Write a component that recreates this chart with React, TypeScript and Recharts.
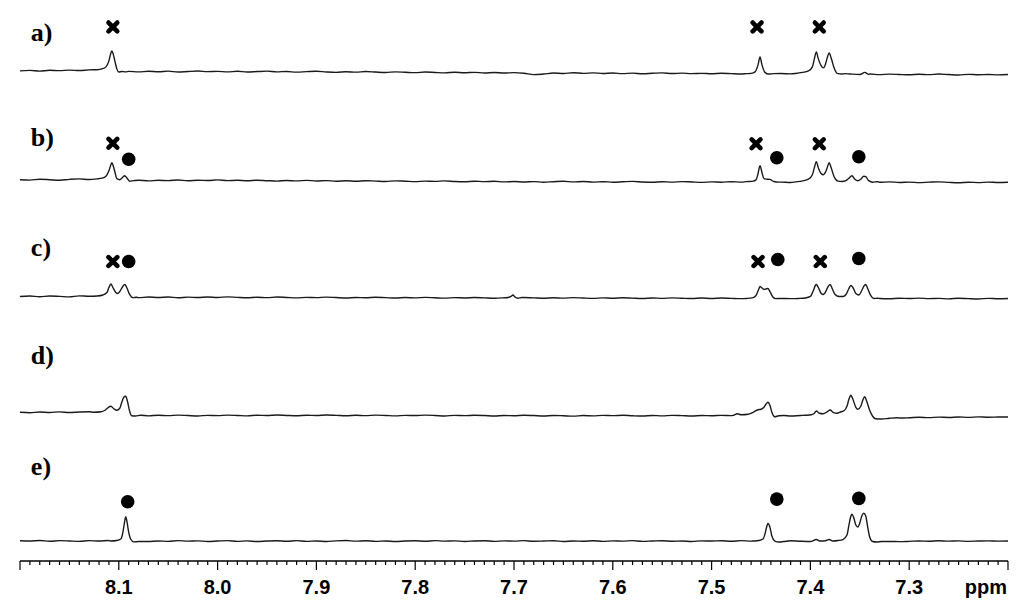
import { ComposedChart, Line, Scatter, XAxis, YAxis } from 'recharts';

// ppm grid for baseline readings, 8.20 -> 7.20 in 0.01 steps
const ppmGrid = Array.from({ length: 101 }, (_, i) => (820 - i) / 100);
const majorTicks = [8.2, 8.1, 8.0, 7.9, 7.8, 7.7, 7.6, 7.5, 7.4, 7.3, 7.2];
const tickLabels = ['8.1', '8.0', '7.9', '7.8', '7.7', '7.6', '7.5', '7.4', '7.3'];

const traceNames = ['a)', 'b)', 'c)', 'd)', 'e)'];
const traceOffsets = [491, 382, 265, 149, 20];
const labelLevels = [521, 416, 306, 197, 86];

// baseline intensities on ppmGrid
const baseA = [
  0, 0.5, -0.3, 0.6, 0.2, 0.8, 0.3, 1, 0.6, 1.2,
  -0.8, -0.5, -1, -0.4, -0.9, -0.3, -1.1, -0.6, -0.2, -0.8,
  -0.5, -1, -0.4, -1.2, -0.7, -0.3, -1, -0.6, -1.3, -0.8,
  -0.4, -1.1, -1.5, -0.9, -1.3, -0.7, -1.2, -1.6, -1, -1.4,
  -1.8, -1.2, -1.6, -2, -1.4, -1.9, -1.5, -2.1, -1.6, -2.2,
  -1.8, -2.4, -3.8, -3.2, -2.2, -2.6, -1.9, -2.5, -2, -2.6,
  -2.2, -2.8, -2.3, -2.9, -2.4, -2, -2.7, -2.3, -2.8, -2.5,
  -2.9, -2.4, -2.8, -3.1, -2.6, -2.9, -3.2, -2.7, -3, -2.5,
  -2.4, -2.6, -3, -3.5, -3.1, -3.6, -3.2, -3.8, -3.3, -3.6,
  -3.9, -3.4, -3.8, -3.2, -3.7, -4.1, -3.5, -3.9, -3.6, -4, -3.7,
];
const baseB = [
  0, -0.4, 0.5, 0, -0.6, 0.3, 0.8, 0.2, 0.6, 0.9,
  0, -1, -0.5, -1.2, -0.6, -0.9, -0.3, -1, -0.5, -0.8,
  -0.2, -0.9, -0.6, -1.1, -0.5, -1, -1.4, -0.8, -1.2, -0.7,
  -1.3, -0.9, -1.5, -1.1, -1.6, -1, -1.4, -1.8, -1.2, -1.5,
  -1.9, -1.4, -1.7, -1.2, -1.8, -2.1, -1.5, -1.9, -1.6, -2.2,
  -1.8, -2.3, -1.9, -2.5, -2, -1.6, -2.2, -1.8, -2.4, -2,
  -2.5, -2.1, -1.7, -2.3, -2.6, -2, -2.4, -1.9, -2.3, -2.7,
  -2.2, -2.5, -2, -2.4, -2.2, -2.6, -2.1, -2.4, -2.8, -2.3,
  -2.5, -2, -2.4, -2.2, -2.7, -2.3, -2.1, -2.6, -2.2, -2.8,
  -2.4, -2.9, -2.5, -2.2, -2.7, -3.1, -2.6, -2.9, -2.4, -2.8, -2.6,
];
const baseC = [
  0, 0.4, -0.3, 0.5, 0.1, -0.4, 0.6, 0.2, 0.7, 0.4,
  0, -0.8, -1.2, -0.6, -1, -0.5, -1.3, -0.7, -1.1, -0.6,
  -1, -0.4, -0.9, -1.3, -0.8, -1.2, -0.6, -1, -1.4, -0.9,
  -1.2, -0.7, -1.1, -1.5, -1, -1.3, -0.8, -1.2, -1.6, -1.1,
  -1.4, -0.9, -1.3, -1.7, -1.2, -1.5, -1, -1.4, -1.8, -1.3,
  -1.6, -1.1, -1.4, -1.8, -1.3, -1.7, -1.2, -1.6, -1.9, -1.4,
  -1.8, -1.3, -1.7, -2, -1.5, -1.9, -1.4, -1.8, -2.1, -1.6,
  -2, -1.5, -1.9, -2.2, -1.7, -2, -1.6, -1.9, -2.2, -1.8,
  -2, -1.6, -1.9, -2.2, -1.8, -2.1, -1.7, -2, -2.3, -1.8,
  -2.1, -1.7, -2.2, -1.9, -2.4, -1.8, -2.2, -2.5, -1.9, -2.3, -2,
];
const baseD = [
  0, -0.5, 0.3, -0.2, 0.4, -0.3, 0.2, 0.5, -0.1, 0.3,
  -3.5, -3.8, -3.2, -3.6, -3, -3.4, -2.9, -3.3, -3.7, -3.1,
  -3.4, -2.9, -3.2, -3.6, -3, -3.3, -2.8, -3.2, -3.5, -3,
  -3.3, -2.8, -3.1, -3.5, -3, -3.4, -2.9, -3.2, -3.6, -3.1,
  -3.3, -2.9, -3.2, -3.7, -3.1, -3.4, -3, -3.3, -3.8, -3.2,
  -3.5, -3, -3.3, -3.7, -3.2, -3.5, -3.9, -3.3, -3.6, -3.1,
  -3.4, -3, -3.5, -3.8, -3.2, -3.6, -3.1, -3.4, -3.7, -3.2,
  -3.5, -3.1, -3.4, -3.6, -3.2, -3.5, -3.2, -3.4, -3.7, -3.2,
  -3.4, -3, -3.3, -3.6, -3.2, -3.5, -3.3, -3.6, -6.5, -5.8,
  -5.5, -5, -5.4, -4.9, -5.2, -4.7, -5.1, -4.6, -5, -4.8, -4.7,
];
const baseE = [
  0.3, 0, 0.5, -0.2, 0.4, 0.1, -0.3, 0.4, 0, 0.5,
  -0.5, -0.2, 0.3, -0.4, 0.1, -0.3, 0.4, -0.1, 0.2, -0.4,
  0, 0.4, -0.3, 0.2, -0.5, 0, 0.3, -0.2, 0.4, -0.3,
  0.1, -0.4, 0.2, 0.5, -0.1, 0.3, -0.3, 0.1, -0.5, 0,
  0.3, -0.2, 0.4, -0.1, 0.2, -0.4, 0.1, 0.3, -0.3, 0.2,
  -0.1, 0.4, -0.2, 0, 0.3, -0.4, 0.1, -0.2, 0.3, -0.3,
  0.2, -0.1, 0.4, -0.3, 0, 0.3, -0.2, 0.1, -0.4, 0.2,
  0, 0.3, -0.2, 0.4, -0.1, 0.2, -0.3, 0.1, 0.3, -0.2,
  0, 0.3, -0.1, 0.2, -0.3, 0.1, -0.2, 0.3, -0.4, -0.6,
  -0.3, 0.1, -0.2, 0.3, -0.1, 0.2, -0.3, 0, 0.2, -0.1, 0,
];

// peak regions: [ppm, intensity]
const peaksA = [
  [[8.122, 1.2], [8.117, 2], [8.113, 4], [8.11, 10], [8.108, 18], [8.107, 20], [8.106, 18], [8.104, 10], [8.102, 2], [8.1, -1.2], [8.097, -0.6], [8.093, -1]],
  [[7.465, -2.8], [7.46, -2.5], [7.456, -1], [7.453, 6], [7.451, 14], [7.449, 6], [7.446, -1.5], [7.442, -3.2], [7.437, -2.8]],
  [[7.415, -2.6], [7.408, -1.5], [7.402, 0], [7.398, 4], [7.396, 12], [7.394, 19], [7.392, 12], [7.389, 5], [7.387, 3], [7.385, 6], [7.383, 13], [7.381, 18], [7.379, 13], [7.376, 3], [7.373, -2.5], [7.368, -3.2], [7.365, -2.8]],
  [[7.349, -3.4], [7.345, -1.5], [7.341, -3.5]],
];
const peaksB = [
  [[8.122, 0.8], [8.117, 1.5], [8.113, 3.5], [8.11, 9], [8.108, 15], [8.107, 17], [8.106, 15], [8.104, 8], [8.102, 1], [8.099, 0], [8.096, 2.5], [8.094, 4], [8.092, 2], [8.089, -1.5], [8.085, -1]],
  [[7.465, -2], [7.458, -1.5], [7.455, 0], [7.453, 6], [7.451, 14], [7.449, 7], [7.447, 1], [7.444, 0.5], [7.441, 0.3], [7.437, -1.8], [7.432, -2.4]],
  [[7.415, -2.2], [7.408, -1.2], [7.402, 0.5], [7.398, 5], [7.396, 12], [7.394, 18], [7.392, 12], [7.389, 6], [7.387, 5], [7.385, 7], [7.383, 12], [7.381, 17], [7.379, 12], [7.376, 3], [7.372, -1.5], [7.368, -1.8], [7.364, -1], [7.361, 1.5], [7.358, 4], [7.355, 0.5], [7.352, -1], [7.349, 0.5], [7.346, 3.5], [7.344, 3], [7.341, -1], [7.337, -2.5], [7.332, -2]],
];
const peaksC = [
  [[8.122, 0.5], [8.116, 1.5], [8.112, 4], [8.11, 9], [8.108, 12.5], [8.106, 9], [8.103, 4], [8.101, 3], [8.099, 5], [8.096, 10], [8.094, 12], [8.092, 9], [8.089, 2], [8.086, -1.2], [8.082, -0.8]],
  [[7.706, -1], [7.703, 0], [7.701, 1.5], [7.699, -0.5], [7.696, -1.8], [7.692, -1]],
  [[7.465, -2], [7.458, -1.2], [7.455, 1], [7.452, 8], [7.451, 10], [7.449, 8.5], [7.447, 7], [7.445, 7.5], [7.443, 8], [7.441, 5], [7.438, -0.5], [7.435, -2.2], [7.43, -2]],
  [[7.412, -2], [7.405, -1.5], [7.4, 0], [7.397, 6], [7.395, 11], [7.394, 12], [7.392, 9], [7.389, 3], [7.387, 2], [7.385, 4], [7.382, 10], [7.38, 12], [7.378, 8], [7.375, 2], [7.371, 0], [7.367, 0], [7.364, 2], [7.361, 8], [7.359, 11], [7.357, 9], [7.354, 3], [7.351, 1.5], [7.348, 6], [7.346, 10], [7.344, 12], [7.342, 8], [7.339, 1], [7.336, -2], [7.332, -1.8]],
];
const peaksD = [
  [[8.125, 0], [8.118, 0.5], [8.114, 2], [8.111, 4.5], [8.108, 6], [8.105, 3.5], [8.102, 2], [8.099, 4], [8.097, 10], [8.095, 15], [8.093, 16], [8.091, 10], [8.089, 1], [8.087, -3.5], [8.083, -3.8], [8.078, -3]],
  [[7.478, -3], [7.474, -1.5], [7.47, -2.5], [7.463, -2], [7.458, 0], [7.453, 2.5], [7.45, 3], [7.447, 5], [7.445, 8], [7.443, 10], [7.441, 7], [7.439, 0], [7.436, -4.5], [7.432, -3.5], [7.427, -3.2]],
  [[7.405, -3], [7.399, -2.5], [7.396, -1], [7.394, 1.3], [7.391, -1], [7.387, -1.5], [7.383, 0.5], [7.38, 2.3], [7.377, 0], [7.373, -1], [7.369, 0.5], [7.366, 1.5], [7.363, 6], [7.361, 13], [7.359, 17], [7.357, 13], [7.354, 5], [7.352, 3], [7.349, 6], [7.347, 12], [7.345, 15.5], [7.343, 11], [7.34, 2], [7.337, -4], [7.334, -6.5], [7.328, -6.8], [7.32, -6], [7.312, -5.5]],
];
const peaksE = [
  [[8.108, 0], [8.102, 0.5], [8.098, 2], [8.096, 8], [8.094, 20], [8.093, 24.5], [8.092, 21], [8.09, 9], [8.088, 2], [8.085, -0.8], [8.08, -0.5]],
  [[7.458, 0], [7.452, 0.5], [7.448, 2], [7.446, 7], [7.444, 15], [7.443, 17.5], [7.441, 14], [7.439, 5], [7.436, 0], [7.432, -1], [7.427, -0.5]],
  [[7.4, -0.5], [7.394, 1.5], [7.39, 0], [7.385, 0.3], [7.381, 1.5], [7.377, 0], [7.372, 0.5], [7.367, 1.5], [7.363, 6], [7.361, 16], [7.359, 25], [7.358, 27], [7.356, 23], [7.354, 16], [7.352, 14], [7.35, 18], [7.348, 25], [7.346, 28], [7.344, 25], [7.342, 14], [7.34, 4], [7.337, -0.5], [7.333, -1], [7.328, -0.5]],
];

const baselines = [baseA, baseB, baseC, baseD, baseE];
const peakSets = [peaksA, peaksB, peaksC, peaksD, peaksE];

// assignment markers
const crossMarks = [
  { ppm: 8.106, v: 535 }, { ppm: 7.454, v: 535 }, { ppm: 7.391, v: 535 },
  { ppm: 8.106, v: 418.5 }, { ppm: 7.455, v: 418 }, { ppm: 7.391, v: 418 },
  { ppm: 8.106, v: 300 }, { ppm: 7.453, v: 300 }, { ppm: 7.39, v: 300 },
];
const dotMarks = [
  { ppm: 8.09, v: 402.5 }, { ppm: 7.434, v: 404 }, { ppm: 7.351, v: 405 },
  { ppm: 8.09, v: 300 }, { ppm: 7.433, v: 302 }, { ppm: 7.351, v: 303 },
  { ppm: 8.091, v: 59.3 }, { ppm: 7.434, v: 62 }, { ppm: 7.351, v: 62.7 },
];

function buildTrace(k: number) {
  const segs = peakSets[k];
  const inPeak = (p: number) =>
    segs.some((s) => p <= s[0][0] && p >= s[s.length - 1][0]);
  const pts: { ppm: number; v: number }[] = [];
  ppmGrid.forEach((p, i) => {
    if (!inPeak(p)) pts.push({ ppm: p, v: baselines[k][i] + traceOffsets[k] });
  });
  segs.forEach((s) => s.forEach(([p, v]) => pts.push({ ppm: p, v: v + traceOffsets[k] })));
  return pts.sort((a, b) => b.ppm - a.ppm);
}

const traces = traceNames.map((_, k) => buildTrace(k));
const labelPoints = traceNames.map((name, k) => ({ ppm: 8.189, v: labelLevels[k], name }));

function PpmTick({ x, y, payload }: any) {
  const v = payload.value;
  const major = majorTicks.includes(v);
  const label = tickLabels.find((t) => Number(t) === v);
  return (
    <g>
      <line x1={x} x2={x} y1={y} y2={y + (major ? 9 : 4)} stroke="#000" strokeWidth={1.2} />
      {major && label && (
        <text x={x} y={y + 33} textAnchor="middle" fontFamily="Liberation Sans, Arial" fontWeight="bold" fontSize={20} fill="#000">
          {label}
        </text>
      )}
      {v === 7.2 && (
        <text x={x - 1} y={y + 33} textAnchor="end" fontFamily="Liberation Sans, Arial" fontWeight="bold" fontSize={20} fill="#000">
          ppm
        </text>
      )}
    </g>
  );
}

const CrossShape = ({ cx, cy }: any) => (
  <g stroke="#000" strokeWidth={4.6} strokeLinecap="round">
    <line x1={cx - 4.4} y1={cy - 4.4} x2={cx + 4.4} y2={cy + 4.4} />
    <line x1={cx - 4.4} y1={cy + 4.4} x2={cx + 4.4} y2={cy - 4.4} />
  </g>
);

const DotShape = ({ cx, cy }: any) => <circle cx={cx} cy={cy} r={6.8} fill="#000" />;

const NameShape = ({ cx, cy, payload }: any) => (
  <text x={cx} y={cy} textAnchor="start" fontFamily="Liberation Serif, Times New Roman" fontWeight="bold" fontSize={26} fill="#000">
    {payload.name}
  </text>
);

export default function App() {
  return (
    <div style={{ position: 'fixed', left: 0, top: 0, width: 1024, height: 611, background: '#fff' }}>
      <ComposedChart width={1024} height={611} margin={{ top: 0, right: 16, bottom: 10, left: 20 }}>
        <XAxis
          dataKey="ppm"
          type="number"
          domain={[7.2, 8.2]}
          reversed
          allowDataOverflow
          ticks={ppmGrid}
          interval={0}
          tick={<PpmTick />}
          tickLine={false}
          tickSize={0}
          tickMargin={0}
          height={40}
          axisLine={{ stroke: '#000', strokeWidth: 1.5 }}
        />
        <YAxis dataKey="v" type="number" domain={[0, 562]} hide allowDataOverflow />
        {traces.map((t, k) => (
          <Line
            key={traceNames[k]}
            data={t}
            dataKey="v"
            type="monotone"
            stroke="#1a1a1a"
            strokeWidth={1.4}
            dot={false}
            activeDot={false}
            isAnimationActive={false}
          />
        ))}
        <Scatter data={crossMarks} dataKey="v" shape={<CrossShape />} isAnimationActive={false} />
        <Scatter data={dotMarks} dataKey="v" shape={<DotShape />} isAnimationActive={false} />
        <Scatter data={labelPoints} dataKey="v" shape={<NameShape />} isAnimationActive={false} />
      </ComposedChart>
    </div>
  );
}
